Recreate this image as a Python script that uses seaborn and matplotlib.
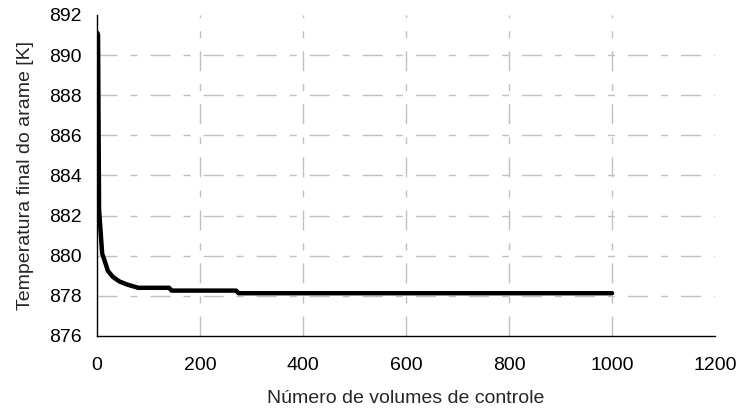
import numpy as np
import pandas as pd
import matplotlib
matplotlib.use("Agg")
import matplotlib.pyplot as plt
import seaborn as sns

# numero de volumes de controle x temperatura final
n_volumes = [1, 2, 4, 10, 15, 21, 31, 44, 60, 80, 140, 145, 270, 275, 1000]
temp_final = [891.1, 891.0, 882.3, 880.1, 879.74, 879.25, 878.94, 878.71,
              878.55, 878.40, 878.40, 878.26, 878.26, 878.13, 878.13]

x_ticks = [0, 200, 400, 600, 800, 1000, 1200]
y_ticks = [876, 878, 880, 882, 884, 886, 888, 890, 892]

df = pd.DataFrame({"n": n_volumes, "T": temp_final})

sns.set_style("white")
plt.rcParams['font.family'] = ['Liberation Sans', 'DejaVu Sans']

fig = plt.figure(figsize=(7.36, 4.15), dpi=100)
ax = fig.add_axes([0.1318, 0.1905, 0.8397, 0.7734])

sns.lineplot(data=df, x="n", y="T", ax=ax, color="black", linewidth=3.2,
             estimator=None)

ax.set_xlim(0, 1200)
ax.set_ylim(876, 892)
ax.set_xticks(x_ticks)
ax.set_yticks(y_ticks)

ax.grid(True, color="#c0c0c0", linewidth=1.0, dashes=(14.4, 9.4, 5, 9.4))
ax.set_axisbelow(True)
# sem grade na borda superior e direita
ax.get_ygridlines()[-1].set_visible(False)
ax.get_xgridlines()[-1].set_visible(False)
ax.get_xgridlines()[0].set_visible(False)
ax.get_ygridlines()[0].set_visible(False)

for s in ["top", "right"]:
    ax.spines[s].set_visible(False)
for s in ["left", "bottom"]:
    ax.spines[s].set_color("black")
    ax.spines[s].set_linewidth(1.0)

ax.tick_params(axis="both", direction="out", width=1, color="black",
               labelsize=14, labelcolor="black")
ax.tick_params(axis="y", length=4, pad=7)
ax.tick_params(axis="x", length=5, pad=10)

ax.set_xlabel("Número de volumes de controle", fontsize=14, labelpad=12)
ax.set_ylabel("Temperatura final do arame [K]", fontsize=14, labelpad=11)

fig.savefig("out.png", dpi=100)
